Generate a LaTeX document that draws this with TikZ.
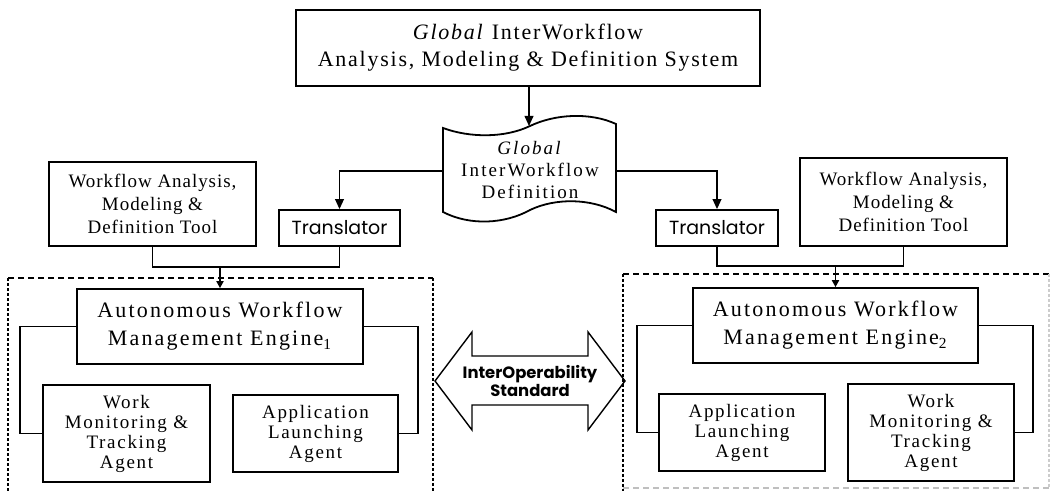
\documentclass[tikz,border=0pt]{standalone}
\usepackage{fontspec}
\setmainfont{Liberation Serif}
\newfontfamily\gothic{Poppins}
\usetikzlibrary{arrows.meta}

% size, baseline skip, letter spacing
\newcommand{\wfsize}[3]{\fontsize{#1}{#2}\selectfont\addfontfeatures{LetterSpace=#3}}

\tikzset{
  box/.style={draw, line width=0.9pt, align=center, inner sep=0pt},
  sized/.style 2 args={minimum width=#1*0.5pt, minimum height=#2*0.5pt},
  link/.style={line width=0.7pt},
  arr/.style={link, -{Triangle[length=5pt,width=4.4pt]}},
  inarr/.style={link, -{Triangle[length=3.5pt,width=3.6pt]}},
  hdash/.style={line width=0.6pt, dash pattern=on 3pt off 2pt},
  vdash/.style={line width=0.7pt, dash pattern=on 1.5pt off 1pt},
  sysfont/.style={font=\wfsize{11}{13.5}{8}},
  engfont/.style={font=\wfsize{11}{14}{10}},
  toolfont/.style={font=\wfsize{9.5}{11.5}{5}},
  agentfont/.style={font=\wfsize{9.5}{10}{9}},
  docfont/.style={font=\wfsize{9.5}{11}{11}},
  sansfont/.style={font=\gothic\fontsize{9.5}{10}\selectfont},
}

\begin{document}
\begin{tikzpicture}[x=0.5pt, y=-0.5pt]
\useasboundingbox (0,0) rectangle (1051,491);

% top-level system
\node[box, sized={464}{76}, sysfont] (sys) at (528,48)
  {\textit{Global} InterWorkflow\\Analysis, Modeling \& Definition System};

% global definition document
\node[align=center, inner sep=0pt, docfont] (doc) at (530,170)
  {\textit{Global}\\InterWorkflow\\Definition};
\draw[line width=0.9pt]
  (443,128) .. controls (470,138) and (505,138) .. (530,126)
            .. controls (555,114) and (590,112) .. (616,124)
  -- (616,212)
            .. controls (590,198) and (555,198) .. (530,210)
            .. controls (505,224) and (470,226) .. (443,212)
  -- cycle;
\coordinate (docin) at (529,126);
\coordinate (docL) at (443,171);
\coordinate (docR) at (616,171);

% translators and local tools
\node[box, sized={121}{36}, sansfont] (trL) at (339.5,228) {Translator};
\node[box, sized={122}{36}, sansfont] (trR) at (717,228) {Translator};
\node[box, sized={207}{84}, toolfont] (toolL) at (152.5,204)
  {Workflow Analysis,\\Modeling \&\\Definition Tool};
\node[box, sized={207}{88}, toolfont] (toolR) at (903.5,202)
  {Workflow Analysis,\\Modeling \&\\Definition Tool};

% engines
\node[box, sized={286}{75}, engfont] (engL) at (220,326.5)
  {Autonomous Workflow\\Management Engine\textsubscript{1}};
\node[box, sized={285}{75}, engfont] (engR) at (835.5,325.5)
  {Autonomous Workflow\\Management Engine\textsubscript{2}};

% agents
\node[box, sized={167}{97}, agentfont] (wmL) at (126.5,433.5)
  {Work\\Monitoring \&\\Tracking\\Agent};
\node[box, sized={165}{77}, agentfont] (appL) at (315.5,433.5)
  {Application\\Launching\\Agent};
\node[box, sized={166}{77}, agentfont] (appR) at (742,432.5)
  {Application\\Launching\\Agent};
\node[box, sized={166}{97}, agentfont] (wmR) at (931,432.5)
  {Work\\Monitoring \&\\Tracking\\Agent};

% autonomous domains
\draw[hdash] (8,278) -- (433,278);
\draw[vdash] (8,491) -- (8,278);
\draw[vdash] (433,278) -- (433,491);
\draw[hdash] (623,274) -- (1049,274);
\draw[vdash] (623,274) -- (623,491);
\draw[hdash, black!25] (623,488) -- (1049,488);
\draw[vdash, black!20] (1049,274) -- (1049,488);

% interoperability arrow
\draw[line width=0.7pt]
  (435,381) -- (472,332) -- (472,356) -- (588,356) -- (588,332)
  -- (625,381) -- (588,430) -- (588,405) -- (472,405) -- (472,430) -- cycle;
\node[align=center, font=\gothic\bfseries\fontsize{8.2}{9}\selectfont] (iop) at (530,381)
  {InterOperability\\Standard};

% connectors
\draw[arr] (sys.south -| docin) -- (docin);
\draw[arr] (docL) -| (trL.north);
\draw[arr] (docR) -| (trR.north);

\coordinate (jL) at (220,267);
\coordinate (jR) at (835.5,266);
\draw[link] (toolL.south) |- (jL) -| (trL.south);
\draw[link] (trR.south) |- (jR) -| (toolR.south);
\draw[inarr] (jL) -- (engL.north);
\draw[inarr] (jR) -- (engR.north);

\draw[link] (engL.west) -- ++(-56,0) |- (wmL.west);
\draw[link] (engL.east) -- ++(54,0) |- (appL.east);
\draw[link] (engR.west) -- ++(-55,0) |- (appR.west);
\draw[link] (engR.east) -- ++(54,0) |- (wmR.east);
\end{tikzpicture}
\end{document}
